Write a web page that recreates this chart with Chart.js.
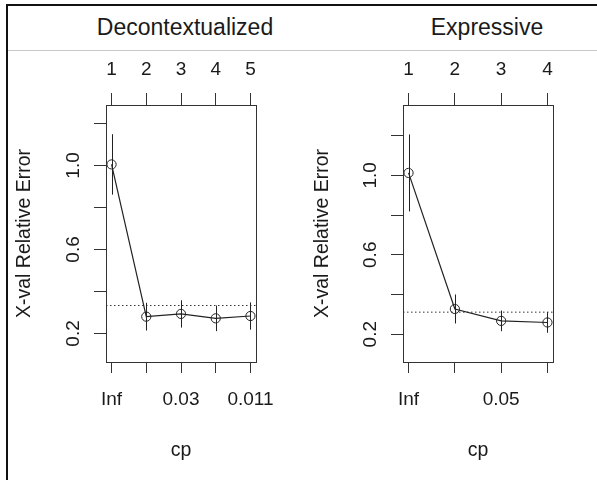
<!DOCTYPE html>
<html>
<head>
<meta charset="utf-8">
<script src="https://cdn.jsdelivr.net/npm/chart.js@4.4.1/dist/chart.umd.min.js"></script>
<style>
  html, body { margin: 0; padding: 0; background: #fff; }
  body { width: 597px; height: 480px; position: relative; overflow: hidden; font-family: 'Liberation Sans', Arial, sans-serif; }
  .marco-sup { position: absolute; left: 6px; top: 4px; right: 0; height: 2px; background: #111; }
  .marco-izq { position: absolute; left: 6px; top: 4px; bottom: 0; width: 2px; background: #111; }
  .linea { position: absolute; left: 8px; right: 0; top: 50px; height: 1px; background: #c8c8c8; }
  .cabecera { position: absolute; top: 16px; width: 300px; text-align: center; font-size: 23px; line-height: 23px; color: #1a1a1a; }
  .panel { position: absolute; top: 52px; height: 428px; }
</style>
</head>
<body>
<div class="marco-sup"></div>
<div class="marco-izq"></div>
<div class="linea"></div>
<div class="cabecera" style="left:35px">Decontextualized</div>
<div class="cabecera" style="left:337px">Expressive</div>
<div class="panel" style="left:0;width:298px"><canvas id="cpDecon"></canvas></div>
<div class="panel" style="left:298px;width:299px"><canvas id="cpExpr"></canvas></div>
<script>
// Decontextualized
const deconSize = [1, 2, 3, 4, 5];
const deconCp = ['Inf', '', '0.03', '', '0.011'];
const deconXerror = [1.005, 0.280, 0.293, 0.272, 0.283];
const deconXstd = [0.144, 0.066, 0.065, 0.061, 0.065];
const deconMinLine = 0.333;

// Expressive
const exprSize = [1, 2, 3, 4];
const exprCp = ['Inf', '', '0.05', ''];
const exprXerror = [1.012, 0.327, 0.267, 0.259];
const exprXstd = [0.194, 0.073, 0.052, 0.052];
const exprMinLine = 0.311;

// eje y
const yTicks = [0.2, 0.4, 0.6, 0.8, 1.0, 1.2];
const yTickLabels = ['0.2', '', '0.6', '', '1.0', ''];

Chart.defaults.font.family = "'Liberation Sans', Arial, sans-serif";
Chart.defaults.color = '#1a1a1a';

function dibujarCp(id, size, cp, xerror, xstd, minLine, yRango, area) {
    const pos = size.map((s, i) => i + 1);
    const ext = (pos.length - 1) * 0.04;
    const xMin = 1 - ext;
    const xMax = pos.length + ext;

    const ejeGrid = { drawOnChartArea: false, drawTicks: true, color: '#333', tickColor: '#333' };

    new Chart(document.getElementById(id), {
        type: 'line',
        data: {
            datasets: [{
                data: pos.map((p, i) => ({ x: p, y: xerror[i] })),
                borderColor: '#222',
                borderWidth: 1.2,
                pointRadius: 4.6,
                pointBorderWidth: 1,
                pointBorderColor: '#222',
                pointBackgroundColor: 'rgba(0,0,0,0)',
                tension: 0
            }, {
                data: [{ x: xMin, y: minLine }, { x: xMax, y: minLine }],
                borderColor: '#333',
                borderWidth: 1,
                borderDash: [1.5, 2.5],
                pointRadius: 0
            }]
        },
        options: {
            responsive: true,
            maintainAspectRatio: false,
            animation: false,
            events: [],
            layout: { padding: { left: 0, top: 0, right: area.w - area.right, bottom: 0 } },
            scales: {
                x: {
                    type: 'linear', position: 'bottom', min: xMin, max: xMax, bounds: 'data',
                    afterBuildTicks: s => { s.ticks = pos.map(v => ({ value: v })); },
                    afterFit: s => { s.height = area.h - area.bottom; },
                    grid: Object.assign({ tickLength: 11 }, ejeGrid),
                    border: { display: false },
                    ticks: { autoSkip: false, minRotation: 0, maxRotation: 0, padding: 15, font: { size: 19 },
                             callback: (v, i) => cp[i] },
                    title: { display: true, text: 'cp', font: { size: 19.5 }, padding: { top: 0, bottom: 18 } }
                },
                xTop: {
                    type: 'linear', position: 'top', axis: 'x', min: xMin, max: xMax, bounds: 'data',
                    afterBuildTicks: s => { s.ticks = pos.map(v => ({ value: v })); },
                    afterFit: s => { s.height = area.top; },
                    grid: Object.assign({ tickLength: 12 }, ejeGrid),
                    border: { display: false },
                    ticks: { autoSkip: false, minRotation: 0, maxRotation: 0, padding: 12, font: { size: 19 },
                             callback: (v, i) => String(size[i]) }
                },
                y: {
                    type: 'linear', position: 'left', min: yRango[0], max: yRango[1], bounds: 'data',
                    afterBuildTicks: s => { s.ticks = yTicks.map(v => ({ value: v })); },
                    afterFit: s => { s.width = area.left; },
                    grid: Object.assign({ tickLength: 12 }, ejeGrid),
                    border: { display: false },
                    ticks: { autoSkip: false, minRotation: 90, maxRotation: 90, crossAlign: 'center', padding: 7,
                             font: { size: 19 }, callback: (v, i) => yTickLabels[i] },
                    title: { display: true, text: 'X-val Relative Error', font: { size: 19.5 }, padding: { top: 13, bottom: 0 } }
                }
            },
            plugins: {
                legend: { display: false },
                tooltip: { enabled: false }
            }
        },
        plugins: [{
            id: 'barrasError',
            afterDatasetsDraw(chart) {
                const { ctx, chartArea: a, scales: { x, y } } = chart;
                ctx.save();
                ctx.strokeStyle = '#222';
                ctx.lineWidth = 1;
                pos.forEach((p, i) => {
                    const px = Math.round(x.getPixelForValue(p)) + 0.5;
                    ctx.beginPath();
                    ctx.moveTo(px, y.getPixelForValue(xerror[i] + xstd[i]));
                    ctx.lineTo(px, y.getPixelForValue(xerror[i] - xstd[i]));
                    ctx.stroke();
                });
                // caja
                ctx.strokeStyle = '#333';
                ctx.strokeRect(Math.round(a.left) + 0.5, Math.round(a.top) + 0.5,
                               Math.round(a.right - a.left), Math.round(a.bottom - a.top));
                ctx.restore();
            }
        }]
    });
}

dibujarCp('cpDecon', deconSize, deconCp, deconXerror, deconXstd, deconMinLine, [0.064, 1.288],
          { left: 106, right: 256, top: 53, bottom: 310, w: 298, h: 428 });
dibujarCp('cpExpr', exprSize, exprCp, exprXerror, exprXstd, exprMinLine, [0.06, 1.354],
          { left: 105, right: 255, top: 53, bottom: 310, w: 299, h: 428 });
</script>
</body>
</html>
